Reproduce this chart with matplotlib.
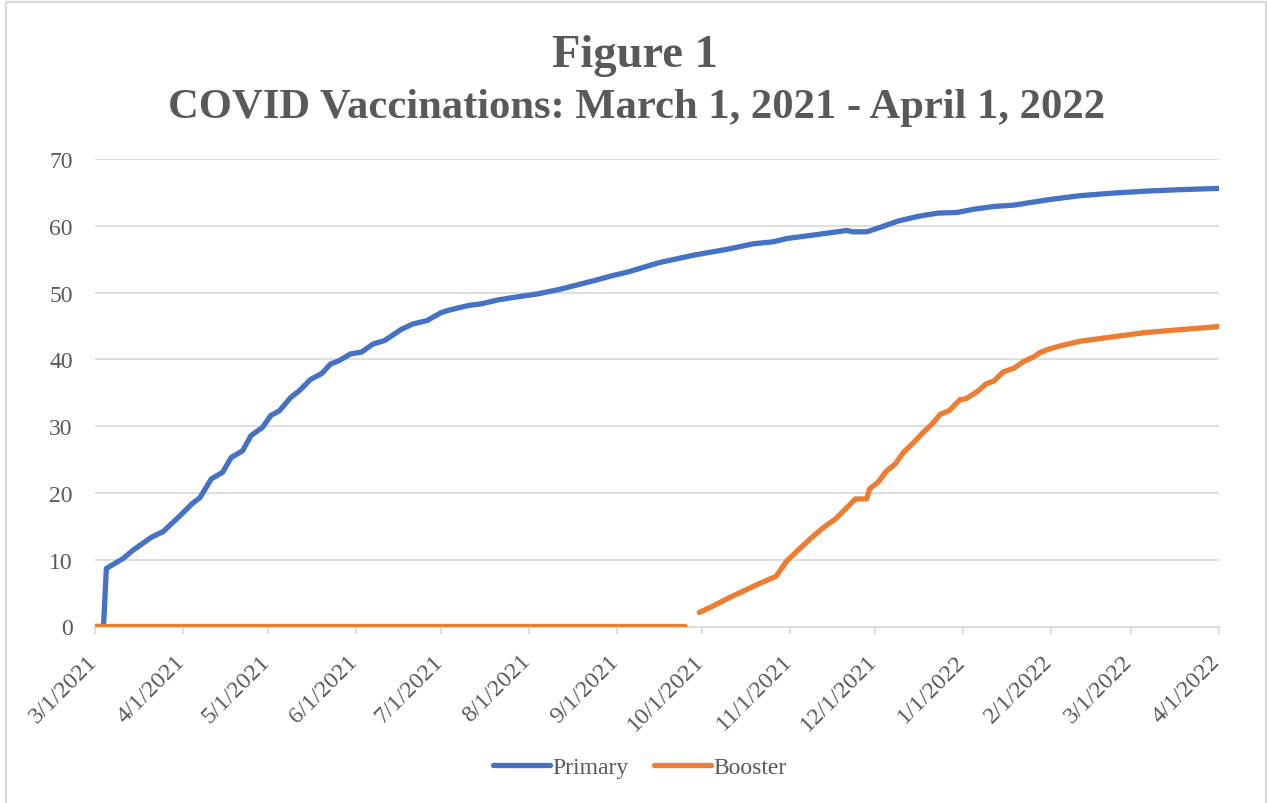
import numpy as np
import pandas as pd
import matplotlib
matplotlib.use('Agg')
import matplotlib.pyplot as plt
import matplotlib.dates as mdates
import matplotlib.transforms as mtrans
from matplotlib.ticker import FuncFormatter
from matplotlib.patches import Rectangle

plt.rcParams['font.family'] = ['Liberation Serif', 'DejaVu Serif']

# values (percent of population)
primary_dates = ['2021-03-01', '2021-03-04', '2021-03-05', '2021-03-11', '2021-03-14', '2021-03-21',
                 '2021-03-25', '2021-03-31', '2021-04-04', '2021-04-07', '2021-04-11', '2021-04-15',
                 '2021-04-18', '2021-04-22', '2021-04-25', '2021-04-29', '2021-05-02', '2021-05-05',
                 '2021-05-09', '2021-05-12', '2021-05-16', '2021-05-20', '2021-05-23', '2021-05-26',
                 '2021-05-30', '2021-06-03', '2021-06-07', '2021-06-11', '2021-06-17', '2021-06-21',
                 '2021-06-26', '2021-07-01', '2021-07-04', '2021-07-11', '2021-07-15', '2021-07-21',
                 '2021-07-27', '2021-08-04', '2021-08-12', '2021-08-24', '2021-08-30', '2021-09-05',
                 '2021-09-16', '2021-09-28', '2021-10-10', '2021-10-19', '2021-10-26', '2021-10-31',
                 '2021-11-09', '2021-11-21', '2021-11-23', '2021-11-28', '2021-12-03', '2021-12-09',
                 '2021-12-16', '2021-12-23', '2021-12-30', '2022-01-05', '2022-01-12', '2022-01-19',
                 '2022-01-31', '2022-02-11', '2022-02-23', '2022-03-07', '2022-03-18', '2022-04-01']
primary_values = [0, 0, 8.7, 10.2, 11.3, 13.4,
                  14.2, 16.6, 18.3, 19.3, 22.1, 23.1,
                  25.3, 26.3, 28.6, 29.8, 31.6, 32.3,
                  34.3, 35.3, 37.0, 37.9, 39.3, 39.8,
                  40.8, 41.1, 42.3, 42.8, 44.5, 45.3,
                  45.8, 47.0, 47.4, 48.1, 48.3, 48.9,
                  49.3, 49.8, 50.5, 51.8, 52.5, 53.1,
                  54.5, 55.6, 56.5, 57.3, 57.6, 58.1,
                  58.6, 59.3, 59.1, 59.1, 59.8, 60.7,
                  61.4, 61.9, 62.0, 62.5, 62.9, 63.1,
                  63.9, 64.5, 64.9, 65.2, 65.4, 65.6]

booster_dates = ['2021-03-01', '2021-09-25', '2021-09-27', '2021-09-30', '2021-10-05', '2021-10-10',
                 '2021-10-16', '2021-10-21', '2021-10-27', '2021-10-31', '2021-11-03', '2021-11-08',
                 '2021-11-13', '2021-11-17', '2021-11-21', '2021-11-24', '2021-11-28', '2021-11-29',
                 '2021-12-02', '2021-12-05', '2021-12-08', '2021-12-11', '2021-12-14', '2021-12-18',
                 '2021-12-21', '2021-12-24', '2021-12-27', '2021-12-31', '2022-01-02', '2022-01-06',
                 '2022-01-09', '2022-01-12', '2022-01-15', '2022-01-19', '2022-01-22', '2022-01-26',
                 '2022-01-28', '2022-01-31', '2022-02-04', '2022-02-11', '2022-02-18', '2022-02-25',
                 '2022-03-06', '2022-03-17', '2022-04-01']
booster_values = [0, 0, np.nan, 2.1, 3.1, 4.2,
                  5.4, 6.4, 7.5, 9.9, 11.1, 13.1,
                  14.9, 16.1, 17.8, 19.1, 19.1, 20.6,
                  21.6, 23.3, 24.3, 26.1, 27.3, 29.1,
                  30.3, 31.8, 32.3, 34.0, 34.1, 35.2,
                  36.3, 36.8, 38.1, 38.7, 39.6, 40.4,
                  41.0, 41.5, 42.0, 42.7, 43.1, 43.5,
                  44.0, 44.4, 44.9]

gray = '#595959'
grid_c = '#D9D9D9'

fig = plt.figure(figsize=(12.67, 8.04), dpi=100)
ax = fig.add_axes([95/1267, 1-627.5/804, (1218.5-95)/1267, (627.5-160)/804])

ax.plot(pd.to_datetime(primary_dates), primary_values, color='#4472C4', lw=3.8,
        solid_capstyle='round', solid_joinstyle='round', label='Primary')
ax.plot(pd.to_datetime(booster_dates), booster_values, color='#ED7D31', lw=3.8,
        solid_capstyle='round', solid_joinstyle='round', label='Booster')

ax.set_xlim(pd.Timestamp('2021-03-01'), pd.Timestamp('2022-04-01'))
ax.set_ylim(0, 70)
ax.set_yticks(np.arange(0, 71, 10))
ax.xaxis.set_major_locator(mdates.MonthLocator(bymonthday=1))
ax.xaxis.set_major_formatter(FuncFormatter(
    lambda x, p: '%d/%d/%d' % (mdates.num2date(x).month, mdates.num2date(x).day, mdates.num2date(x).year)))

ax.grid(axis='y', color=grid_c, lw=1.2)
ax.set_axisbelow(True)
for s in ['top', 'right', 'left']:
    ax.spines[s].set_visible(False)
ax.spines['bottom'].set_color(grid_c)
ax.spines['bottom'].set_linewidth(1.2)
ax.spines['bottom'].set_zorder(0.5)

ax.tick_params(axis='y', length=0, pad=16, labelsize=17, labelcolor=gray)
ax.tick_params(axis='x', length=5, width=1.2, color=grid_c, direction='out', pad=12,
               labelsize=17.5, labelcolor=gray)
shift = mtrans.ScaledTranslation(6/100, 0, fig.dpi_scale_trans)
for lab in ax.get_xticklabels():
    lab.set_rotation(45)
    lab.set_ha('right')
    lab.set_transform(lab.get_transform() + shift)

fig.text(635/1267, 1-66.7/804, 'Figure 1', ha='center', va='baseline',
         fontsize=33.5, fontweight='bold', color=gray)
fig.text(636.5/1267, 1-118/804, 'COVID Vaccinations: March 1, 2021 - April 1, 2022', ha='center',
         va='baseline', fontsize=30.7, fontweight='bold', color=gray)

leg = fig.legend(loc='center', bbox_to_anchor=(640/1267, 1-768/804), ncol=2, frameon=False,
                 fontsize=17, handlelength=2.4, handletextpad=0.1, columnspacing=1.1,
                 labelcolor=gray)

fig.patches.append(Rectangle((5.5/1267, -0.01), 1260/1267, 1-2.7/804 + 0.01, transform=fig.transFigure,
                             fill=False, edgecolor=grid_c, lw=1.5))

fig.savefig('out.png', dpi=100)
